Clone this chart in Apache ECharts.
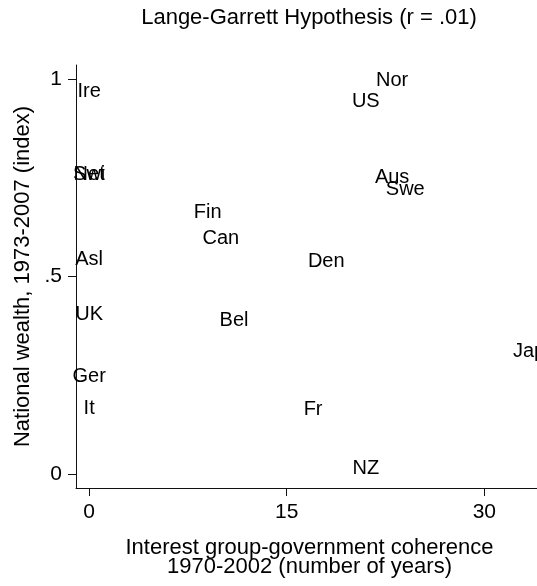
<!DOCTYPE html>
<html>
<head>
<meta charset="utf-8">
<script src="https://cdn.jsdelivr.net/npm/echarts@6/dist/echarts.min.js"></script>
<style>
  html, body { margin: 0; padding: 0; background: #fff; }
  #chart { width: 537px; height: 586px; }
</style>
</head>
<body>
<div id="chart"></div>
<script>
// country labels, plotted at (coherence, wealth)
const countries = ['Ire', 'Net', 'Swi', 'Asl', 'UK', 'Ger', 'It', 'Nor', 'US', 'Aus', 'Swe', 'Fin', 'Can', 'Den', 'Bel', 'Jap', 'Fr', 'NZ']
const coherence = [0, 0, 0, 0, 0, 0, 0, 23, 21, 23, 24, 9, 10, 18, 11, 33.4, 17, 21]
const wealth = [0.968, 0.757, 0.757, 0.542, 0.403, 0.248, 0.165, 0.997, 0.943, 0.75, 0.719, 0.663, 0.597, 0.537, 0.388, 0.31, 0.164, 0.014]
const xTicks = [0, 15, 30]
const yTicks = [0, 0.5, 1]
const yTickLabels = ['0', '.5', '1']

const chart = echarts.init(document.getElementById('chart'))
const font = 'Liberation Sans, Arial, sans-serif'
const axisColor = '#111'

const option = {
  animation: false,
  title: {
    text: 'Lange-Garrett Hypothesis (r = .01)',
    left: 304,
    top: 2,
    textAlign: 'center',
    textStyle: { fontFamily: font, fontSize: 22, fontWeight: 'normal', color: '#000' },
  },
  grid: { left: 76, right: -6, top: 65, bottom: 98 },
  xAxis: {
    type: 'value',
    min: -1,
    max: 34,
    name: 'Interest group-government coherence\n1970-2002 (number of years)',
    nameLocation: 'middle',
    nameGap: 50,
    nameTextStyle: { fontFamily: font, fontSize: 22, color: '#000', lineHeight: 19, padding: [0, 0, 0, 6] },
    splitLine: { show: false },
    axisLine: { onZero: false, lineStyle: { color: axisColor, width: 1 } },
    axisTick: { show: true, length: 8, customValues: xTicks, lineStyle: { color: axisColor } },
    axisLabel: { customValues: xTicks, margin: 14, fontFamily: font, fontSize: 21, color: '#000' },
  },
  yAxis: {
    type: 'value',
    min: -0.035,
    max: 1.035,
    name: 'National wealth, 1973-2007 (index)',
    nameLocation: 'middle',
    nameGap: 41,
    nameTextStyle: { fontFamily: font, fontSize: 22, color: '#000' },
    splitLine: { show: false },
    axisLine: { show: true, onZero: false, lineStyle: { color: axisColor, width: 1 } },
    axisTick: { show: true, length: 8, customValues: yTicks, lineStyle: { color: axisColor } },
    axisLabel: {
      customValues: yTicks,
      margin: 14,
      fontFamily: font,
      fontSize: 21,
      color: '#000',
      formatter: v => yTickLabels[yTicks.indexOf(v)] ?? '',
    },
  },
  series: [{
    type: 'scatter',
    symbolSize: 1,
    itemStyle: { color: 'transparent' },
    data: countries.map((c, i) => [coherence[i], wealth[i], c]),
    label: {
      show: true,
      position: 'inside',
      offset: [0, 1],
      formatter: p => p.data[2],
      fontFamily: font,
      fontSize: 20,
      color: '#000',
      opacity: 1,
      textBorderWidth: 0,
    },
    labelLayout: { hideOverlap: false },
  }],
}
chart.setOption(option)
</script>
</body>
</html>
